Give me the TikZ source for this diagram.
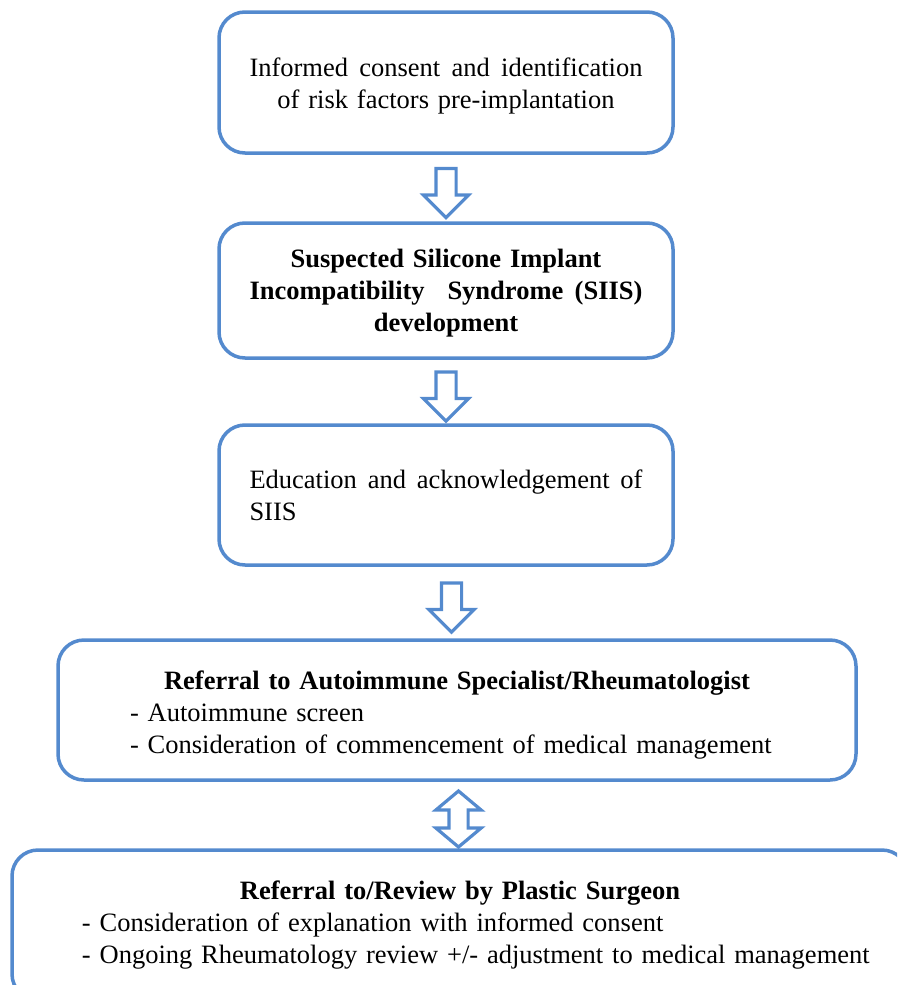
\documentclass[tikz,border=0pt]{standalone}
\usepackage{fontspec}
\setmainfont{Liberation Serif}
\usetikzlibrary{shapes.arrows,calc}
\definecolor{boxblue}{RGB}{84,138,206}
\tikzset{
  flowbox/.style={draw=boxblue, line width=3.5pt, rounded corners=26pt, fill=white,
    inner sep=0pt, font=\fontsize{26.5}{32}\selectfont},
  downarrow/.style={single arrow, draw=boxblue, fill=white, line width=3.2pt,
    shape border rotate=270, minimum height=49pt, minimum width=42pt,
    single arrow head extend=12.5pt, single arrow tip angle=90, inner sep=8.5pt},
  botharrow/.style={double arrow, draw=boxblue, fill=white, line width=3.2pt,
    shape border rotate=90, minimum height=56pt, minimum width=42pt,
    double arrow head extend=13pt, double arrow tip angle=100, inner sep=8pt}
}
\begin{document}
\begin{tikzpicture}[x=1pt,y=-1pt]
\useasboundingbox (0,0) rectangle (897,985);
\clip (0,0) rectangle (897,985);
\node[flowbox, minimum width=454pt, minimum height=141pt, text width=393pt, align=center]
  (b1) at (446,82.5) {\rule{0pt}{25pt}\makebox[393pt][l]{Informed\hfill consent\hfill and\hfill identification}\\ of risk factors pre-implantation};
\node[flowbox, minimum width=454pt, minimum height=135pt, text width=393pt, align=center]
  (b2) at (446,290.5) {\rule{0pt}{23.3pt}\bfseries Suspected Silicone Implant\\ \makebox[393pt][l]{Incompatibility\hfill\hfill Syndrome\hfill (SIIS)}\\ development};
\node[flowbox, minimum width=454pt, minimum height=140pt, text width=393pt, align=left]
  (b3) at (446,495) {\makebox[393pt][l]{Education\hfill and\hfill acknowledgement\hfill of}\\ SIIS};
\node[flowbox, minimum width=798pt, minimum height=140pt, text width=798pt, align=left]
  (b4) at (457,710) {\rule{0pt}{29.4pt}\makebox[\linewidth][c]{\bfseries Referral to Autoimmune Specialist/Rheumatologist}\\
  \hspace*{72pt}- Autoimmune screen\\
  \hspace*{72pt}- Consideration of commencement of medical management};
\node[flowbox, minimum width=896pt, minimum height=150pt, text width=896pt, align=left]
  (b5) at (460,925) {\makebox[\linewidth][c]{\bfseries Referral to/Review by Plastic Surgeon}\\
  \hspace*{70pt}- Consideration of explanation with informed consent\\
  \hspace*{70pt}- Ongoing Rheumatology review +/- adjustment to medical management};
\node[downarrow] (a1) at ($(b1.south)!0.5!(b2.north)$) {};
\node[downarrow] (a2) at ($(b2.south)!0.5!(b3.north)$) {};
\node[downarrow] (a3) at ($(b3.south)!0.5!(b4.north)$) {};
\node[botharrow] (a4) at ($(b4.south)!0.5!(b5.north)+(0,4)$) {};
\end{tikzpicture}
\end{document}
